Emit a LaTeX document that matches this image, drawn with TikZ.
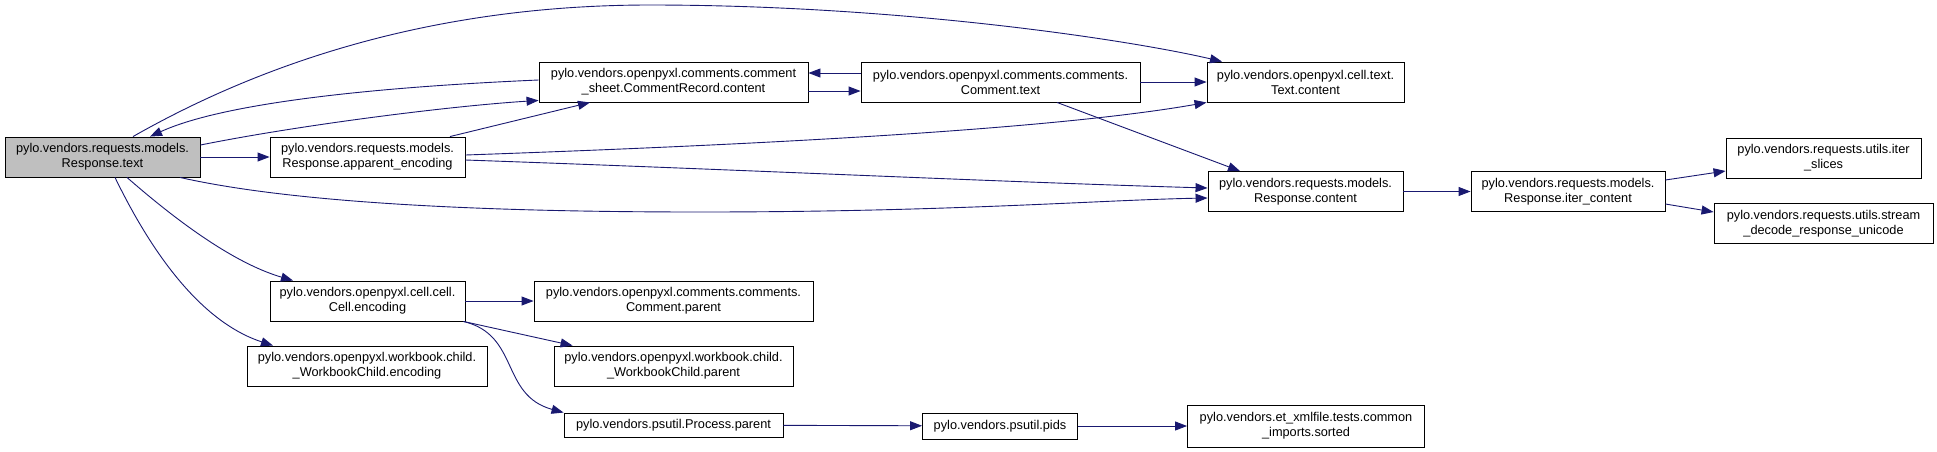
\documentclass[tikz,border=0pt]{standalone}
\usepackage{fontspec}
\setmainfont{Liberation Sans}
\usepackage{tikz}
\usetikzlibrary{arrows.meta}
\definecolor{edgeblue}{RGB}{25, 25, 112}
\definecolor{fngray}{RGB}{191, 191, 191}

\begin{document}
\begin{tikzpicture}[x=1pt,y=-1pt,
    fn/.style={draw=black,line width=0.9pt,inner sep=0pt,align=center,
        font=\fontsize{12.75}{15}\selectfont,minimum height=40pt,minimum width=#1},
    edge/.style={draw=edgeblue,line width=0.9pt,-{Triangle[length=12pt,width=9pt]}}]
\useasboundingbox (0,0) rectangle (1937,451);

% Functions
\node[fn=195pt,fill=fngray] (rtext) at (102.5,157) {pylo.vendors.requests.models.\\Response.text};
\node[fn=195pt] (appenc) at (367.5,157) {pylo.vendors.requests.models.\\Response.apparent\_encoding};
\node[fn=269pt] (crcontent) at (673.5,82) {pylo.vendors.openpyxl.comments.comment\\\_sheet.CommentRecord.content};
\node[fn=279pt] (ctext) at (1000.5,82) {pylo.vendors.openpyxl.comments.comments.\\Comment.text};
\node[fn=197pt] (tcontent) at (1305.5,82) {pylo.vendors.openpyxl.cell.text.\\Text.content};
\node[fn=195pt] (rcontent) at (1305.5,191.5) {pylo.vendors.requests.models.\\Response.content};
\node[fn=194pt] (itercont) at (1568,191.5) {pylo.vendors.requests.models.\\Response.iter\_content};
\node[fn=195pt] (iterslices) at (1823.5,158) {pylo.vendors.requests.utils.iter\\\_slices};
\node[fn=219pt] (streamdec) at (1823.5,223.5) {pylo.vendors.requests.utils.stream\\\_decode\_response\_unicode};
\node[fn=195pt] (cellenc) at (367.5,301) {pylo.vendors.openpyxl.cell.cell.\\Cell.encoding};
\node[fn=240pt] (wbenc) at (367,366) {pylo.vendors.openpyxl.workbook.child.\\\_WorkbookChild.encoding};
\node[fn=279pt] (cparent) at (673.5,301) {pylo.vendors.openpyxl.comments.comments.\\Comment.parent};
\node[fn=239pt] (wbparent) at (673.5,366) {pylo.vendors.openpyxl.workbook.child.\\\_WorkbookChild.parent};
\node[fn=219pt,minimum height=24pt] (pparent) at (673.5,425) {pylo.vendors.psutil.Process.parent};
\node[fn=155pt,minimum height=26pt] (pids) at (1000,426) {pylo.vendors.psutil.pids};
\node[fn=237pt,minimum height=42pt] (sorted) at (1306,426) {pylo.vendors.et\_xmlfile.tests.common\\\_imports.sorted};

% Straight calls
\foreach \a/\b in {rtext/appenc, ctext/tcontent, rcontent/itercont, cellenc/cparent, pparent/pids, pids/sorted} {
    \draw[edge] (\a) -- (\b);
}

% Calls out of Response.text
\draw[edge] ([xshift=30.5pt]rtext.north) .. controls (250,70) and (420,5) .. (650,5)
    .. controls (900,5) and (1130,40) .. ([xshift=-83.5pt]tcontent.north);
\draw[edge] ([yshift=12pt]rtext.east) .. controls (300,125) and (450,106) .. ([yshift=2pt]crcontent.south west);
\draw[edge] ([xshift=77.5pt]rtext.south) .. controls (280,200) and (450,212) .. (700,212)
    .. controls (950,212) and (1100,200) .. ([yshift=-6.5pt]rcontent.west);
\draw[edge] ([xshift=24.5pt]rtext.south) .. controls (170,215) and (230,262) .. ([xshift=-74.5pt]cellenc.north);
\draw[edge] ([xshift=12.5pt]rtext.south) .. controls (160,270) and (210,325) .. ([xshift=-94pt]wbenc.north);

% Calls into Response.text and between comments
\draw[edge] ([yshift=2pt]crcontent.west) .. controls (400,86) and (230,100) .. ([xshift=47.5pt]rtext.north);
\draw[edge] ([yshift=9pt]ctext.west) -- ([yshift=9pt]crcontent.east);
\draw[edge] ([yshift=-9pt]crcontent.east) -- ([yshift=-9pt]ctext.west);
\draw[edge] ([xshift=56.5pt]ctext.south) -- ([xshift=-65.5pt]rcontent.north);

% Calls out of apparent_encoding
\draw[edge] ([xshift=82.5pt]appenc.north) -- ([xshift=-83.5pt]crcontent.south);
\draw[edge] ([yshift=2pt]appenc.east) .. controls (750,145) and (1050,130) .. (tcontent.south west);
\draw[edge] ([yshift=-3pt]appenc.east) .. controls (750,170) and (1000,182) .. ([yshift=3.5pt]rcontent.west);

% Calls out of iter_content
\draw[edge] ([yshift=11.5pt]itercont.east) -- ([yshift=-13pt]iterslices.west);
\draw[edge] ([yshift=-12.5pt]itercont.east) -- ([yshift=11.5pt]streamdec.west);

% Calls out of Cell.encoding
\draw[edge] ([xshift=-2pt]cellenc.south east) -- ([xshift=19pt]wbparent.north west);
\draw[edge] ([xshift=-2pt]cellenc.south east) .. controls (520,335) and (500,395) .. (pparent.north west);
\end{tikzpicture}
\end{document}
